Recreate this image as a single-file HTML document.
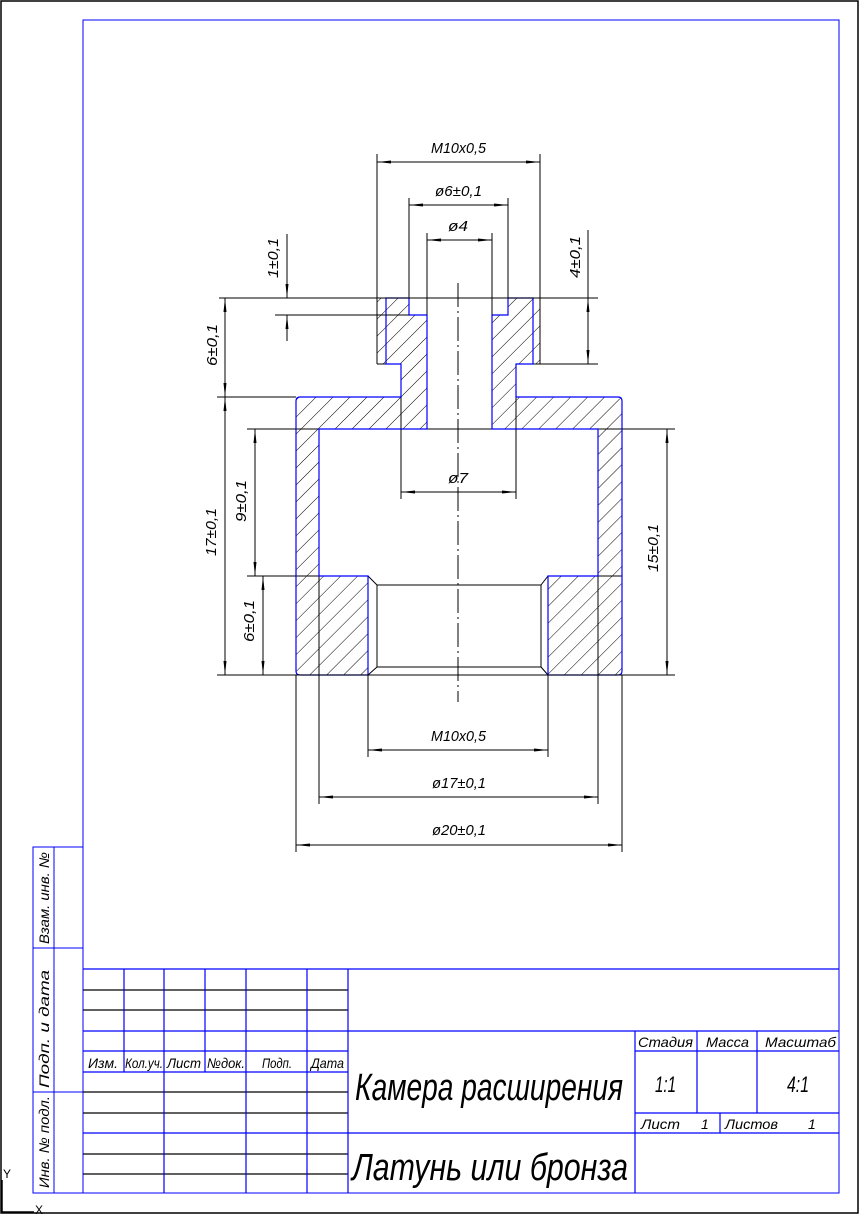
<!DOCTYPE html>
<html><head><meta charset="utf-8"><style>
html,body{margin:0;padding:0;background:#fff}
svg{display:block}
text{font-family:"Liberation Sans",sans-serif;font-style:italic;fill:#000}
</style></head><body>
<svg width="860" height="1216" viewBox="0 0 860 1216" xmlns="http://www.w3.org/2000/svg">
<defs>
<pattern id="h" patternUnits="userSpaceOnUse" width="12" height="12" patternTransform="rotate(45)">
<line x1="0" y1="0" x2="0" y2="12" stroke="#000" stroke-width="1"/>
</pattern>
<marker id="a" viewBox="0 0 14 6" refX="14" refY="3" markerWidth="14" markerHeight="6" markerUnits="userSpaceOnUse" orient="auto-start-reverse">
<path d="M0,1.5 L14,3 L0,4.5 Z" fill="#000"/>
</marker>
</defs>
<!-- page border -->
<rect x="1" y="1" width="857" height="1212" fill="none" stroke="#000" stroke-width="1.5"/>
<!-- drawing frame -->
<rect x="83" y="20" width="756" height="1173" fill="none" stroke="#0000ff" stroke-width="1"/>

<!-- hatched regions -->
<g fill="url(#h)" stroke="none">
<path d="M377,298 L409,298 L409,315 L427,315 L427,429 L319,429 L319,576 L368,576 L368,675 L300,675 Q296,675 296,671 L296,401 Q296,397 300,397 L401,397 L401,364 L377,364 Z"/>
<path d="M540,298 L508,298 L508,315 L492,315 L492,429 L598,429 L598,576 L548,576 L548,675 L618,675 Q622,675 622,671 L622,401 Q622,397 618,397 L516,397 L516,364 L540,364 Z"/>
</g>
<!-- black lines of part -->
<g stroke="#000" stroke-width="1" fill="none">
<line x1="377" y1="298" x2="377" y2="364"/><line x1="377" y1="364" x2="386" y2="364"/>
<line x1="540" y1="298" x2="540" y2="364"/><line x1="533" y1="364" x2="540" y2="364"/>
<line x1="401" y1="397" x2="401" y2="429"/><line x1="516" y1="397" x2="516" y2="429"/>
<line x1="296" y1="429" x2="319" y2="429"/><line x1="598" y1="429" x2="622" y2="429"/>
<line x1="296" y1="576" x2="319" y2="576"/><line x1="598" y1="576" x2="622" y2="576"/>
<line x1="319" y1="576" x2="319" y2="675"/><line x1="598" y1="576" x2="598" y2="675"/>
<rect x="377" y="585" width="164" height="82"/>
<line x1="368" y1="576" x2="377" y2="585"/><line x1="548" y1="576" x2="541" y2="585"/>
<line x1="368" y1="675" x2="377" y2="667"/><line x1="548" y1="675" x2="541" y2="667"/>
<line x1="427" y1="429" x2="492" y2="429"/>
</g>
<!-- blue contour -->
<g stroke="#0000ff" stroke-width="1.2" fill="none">
<path d="M386,298 L409,298 L409,315 L427,315 L427,429 L319,429 L319,576 L368,576 L368,675 L300,675 Q296,675 296,671 L296,401 Q296,397 300,397 L401,397 L401,364 L386,364 Z"/>
<path d="M533,298 L508,298 L508,315 L492,315 L492,429 L598,429 L598,576 L548,576 L548,675 L618,675 Q622,675 622,671 L622,401 Q622,397 618,397 L516,397 L516,364 L533,364 Z"/>
</g>
<!-- centerline -->
<line x1="458" y1="283" x2="458" y2="702" stroke="#000" stroke-width="1" stroke-dasharray="24,4,2,4"/>

<!-- extension lines -->
<g stroke="#000" stroke-width="1">
<line x1="219" y1="298" x2="598" y2="298"/>
<line x1="275" y1="315" x2="409" y2="315"/>
<line x1="540" y1="364" x2="598" y2="364"/>
<line x1="217" y1="397" x2="296" y2="397"/>
<line x1="247" y1="429" x2="296" y2="429"/>
<line x1="622" y1="429" x2="675" y2="429"/>
<line x1="247" y1="576" x2="296" y2="576"/>
<line x1="217" y1="675" x2="675" y2="675"/>
<line x1="377" y1="154" x2="377" y2="298"/><line x1="540" y1="154" x2="540" y2="298"/>
<line x1="409" y1="198" x2="409" y2="298"/><line x1="508" y1="198" x2="508" y2="298"/>
<line x1="427" y1="233" x2="427" y2="315"/><line x1="492" y1="233" x2="492" y2="315"/>
<line x1="401" y1="429" x2="401" y2="499"/><line x1="516" y1="429" x2="516" y2="499"/>
<line x1="368" y1="675" x2="368" y2="757"/><line x1="548" y1="675" x2="548" y2="757"/>
<line x1="319" y1="675" x2="319" y2="804"/><line x1="598" y1="675" x2="598" y2="804"/>
<line x1="296" y1="675" x2="296" y2="852"/><line x1="622" y1="675" x2="622" y2="852"/>
</g>
<!-- dimension lines -->
<g stroke="#000" stroke-width="1">
<line x1="377" y1="162" x2="540" y2="162" marker-start="url(#a)" marker-end="url(#a)"/>
<line x1="409" y1="205" x2="508" y2="205" marker-start="url(#a)" marker-end="url(#a)"/>
<line x1="427" y1="240" x2="492" y2="240" marker-start="url(#a)" marker-end="url(#a)"/>
<line x1="401" y1="492" x2="516" y2="492" marker-start="url(#a)" marker-end="url(#a)"/>
<line x1="368" y1="750" x2="548" y2="750" marker-start="url(#a)" marker-end="url(#a)"/>
<line x1="319" y1="797" x2="598" y2="797" marker-start="url(#a)" marker-end="url(#a)"/>
<line x1="296" y1="845" x2="622" y2="845" marker-start="url(#a)" marker-end="url(#a)"/>
<line x1="287" y1="234" x2="287" y2="298" marker-end="url(#a)"/>
<line x1="287" y1="341" x2="287" y2="315" marker-end="url(#a)"/>
<line x1="588" y1="230" x2="588" y2="298"/>
<line x1="588" y1="298" x2="588" y2="364" marker-start="url(#a)" marker-end="url(#a)"/>
<line x1="225" y1="298" x2="225" y2="397" marker-start="url(#a)" marker-end="url(#a)"/>
<line x1="225" y1="397" x2="225" y2="675" marker-start="url(#a)" marker-end="url(#a)"/>
<line x1="255" y1="429" x2="255" y2="576" marker-start="url(#a)" marker-end="url(#a)"/>
<line x1="263" y1="576" x2="263" y2="675" marker-start="url(#a)" marker-end="url(#a)"/>
<line x1="667" y1="429" x2="667" y2="675" marker-start="url(#a)" marker-end="url(#a)"/>
</g>
<!-- dimension texts -->
<g font-size="15">
<text x="431" y="153" textLength="55" lengthAdjust="spacingAndGlyphs">M10x0,5</text>
<text x="435" y="196" textLength="47" lengthAdjust="spacingAndGlyphs">ø6±0,1</text>
<text x="448" y="231" textLength="20" lengthAdjust="spacingAndGlyphs">ø4</text>
<text x="448" y="483" textLength="20" lengthAdjust="spacingAndGlyphs">ø7</text>
<text x="431" y="741" textLength="55" lengthAdjust="spacingAndGlyphs">M10x0,5</text>
<text x="432" y="788" textLength="54" lengthAdjust="spacingAndGlyphs">ø17±0,1</text>
<text x="432" y="835" textLength="54" lengthAdjust="spacingAndGlyphs">ø20±0,1</text>
<text transform="translate(278,278) rotate(-90)" textLength="40" lengthAdjust="spacingAndGlyphs">1±0,1</text>
<text transform="translate(580,278) rotate(-90)" textLength="42" lengthAdjust="spacingAndGlyphs">4±0,1</text>
<text transform="translate(217,366) rotate(-90)" textLength="42" lengthAdjust="spacingAndGlyphs">6±0,1</text>
<text transform="translate(216,556) rotate(-90)" textLength="48" lengthAdjust="spacingAndGlyphs">17±0,1</text>
<text transform="translate(246,522) rotate(-90)" textLength="42" lengthAdjust="spacingAndGlyphs">9±0,1</text>
<text transform="translate(254,642) rotate(-90)" textLength="42" lengthAdjust="spacingAndGlyphs">6±0,1</text>
<text transform="translate(658,572) rotate(-90)" textLength="48" lengthAdjust="spacingAndGlyphs">15±0,1</text>
</g>

<!-- left strip -->
<g stroke="#0000ff" stroke-width="1" fill="none">
<rect x="33" y="847" width="50" height="346"/>
<line x1="54" y1="847" x2="54" y2="1193"/>
<line x1="33" y1="948" x2="83" y2="948"/>
<line x1="33" y1="1092" x2="83" y2="1092"/>
</g>
<g font-size="14">
<text transform="translate(49,944) rotate(-90)" textLength="92" lengthAdjust="spacingAndGlyphs">Взам. инв. №</text>
<text transform="translate(49,1088) rotate(-90)" textLength="118" lengthAdjust="spacingAndGlyphs">Подп. и дата</text>
<text transform="translate(49,1188) rotate(-90)" textLength="92" lengthAdjust="spacingAndGlyphs">Инв. № подл.</text>
</g>

<!-- title block -->
<g stroke="#000" stroke-width="1.2">
<line x1="83" y1="990" x2="348" y2="990"/>
<line x1="83" y1="1010" x2="348" y2="1010"/>
<line x1="83" y1="1092" x2="348" y2="1092"/>
<line x1="83" y1="1113" x2="348" y2="1113"/>
<line x1="83" y1="1154" x2="348" y2="1154"/>
<line x1="83" y1="1174" x2="348" y2="1174"/>
</g>
<g stroke="#0000ff" stroke-width="1.2" fill="none">
<line x1="83" y1="969" x2="839" y2="969"/>
<line x1="83" y1="1031" x2="839" y2="1031"/>
<line x1="83" y1="1051" x2="348" y2="1051"/>
<line x1="83" y1="1072" x2="348" y2="1072"/>
<line x1="83" y1="1133" x2="839" y2="1133"/>
<line x1="635" y1="1051" x2="839" y2="1051"/>
<line x1="635" y1="1113" x2="839" y2="1113"/>
<line x1="124" y1="969" x2="124" y2="1072"/>
<line x1="205" y1="969" x2="205" y2="1072"/>
<line x1="164" y1="969" x2="164" y2="1193"/>
<line x1="246" y1="969" x2="246" y2="1193"/>
<line x1="307" y1="969" x2="307" y2="1193"/>
<line x1="348" y1="969" x2="348" y2="1193"/>
<line x1="635" y1="1031" x2="635" y2="1193"/>
<line x1="697" y1="1031" x2="697" y2="1113"/>
<line x1="757" y1="1031" x2="757" y2="1113"/>
<line x1="720" y1="1113" x2="720" y2="1133"/>
</g>
<g font-size="14">
<text x="88" y="1068" textLength="30" lengthAdjust="spacingAndGlyphs">Изм.</text>
<text x="125" y="1068" textLength="38" lengthAdjust="spacingAndGlyphs">Кол.уч.</text>
<text x="167" y="1068" textLength="34" lengthAdjust="spacingAndGlyphs">Лист</text>
<text x="207" y="1068" textLength="38" lengthAdjust="spacingAndGlyphs">№док.</text>
<text x="262" y="1068" textLength="30" lengthAdjust="spacingAndGlyphs">Подп.</text>
<text x="311" y="1068" textLength="33" lengthAdjust="spacingAndGlyphs">Дата</text>
<text x="638" y="1047" textLength="55" lengthAdjust="spacingAndGlyphs">Стадия</text>
<text x="706" y="1047" textLength="43" lengthAdjust="spacingAndGlyphs">Масса</text>
<text x="765" y="1047" textLength="71" lengthAdjust="spacingAndGlyphs">Масштаб</text>
<text x="641" y="1129" textLength="39" lengthAdjust="spacingAndGlyphs">Лист</text>
<text x="701" y="1129">1</text>
<text x="725" y="1129" textLength="53" lengthAdjust="spacingAndGlyphs">Листов</text>
<text x="808" y="1129">1</text>
</g>
<text x="655" y="1092" font-size="22" textLength="21" lengthAdjust="spacingAndGlyphs">1:1</text>
<text x="787" y="1092" font-size="22" textLength="22" lengthAdjust="spacingAndGlyphs">4:1</text>
<text x="355" y="1100" font-size="38" textLength="268" lengthAdjust="spacingAndGlyphs">Камера расширения</text>
<text x="352" y="1180" font-size="38" textLength="276" lengthAdjust="spacingAndGlyphs">Латунь или бронза</text>

<!-- axis marks -->
<g stroke="#000" stroke-width="1.5">
<line x1="2" y1="1180" x2="2" y2="1212"/>
<line x1="2" y1="1212" x2="34" y2="1212"/>
</g>
<text x="3" y="1178" font-size="12" style="font-style:normal">Y</text>
<text x="35" y="1214" font-size="12" style="font-style:normal">X</text>
</svg>
</body></html>
